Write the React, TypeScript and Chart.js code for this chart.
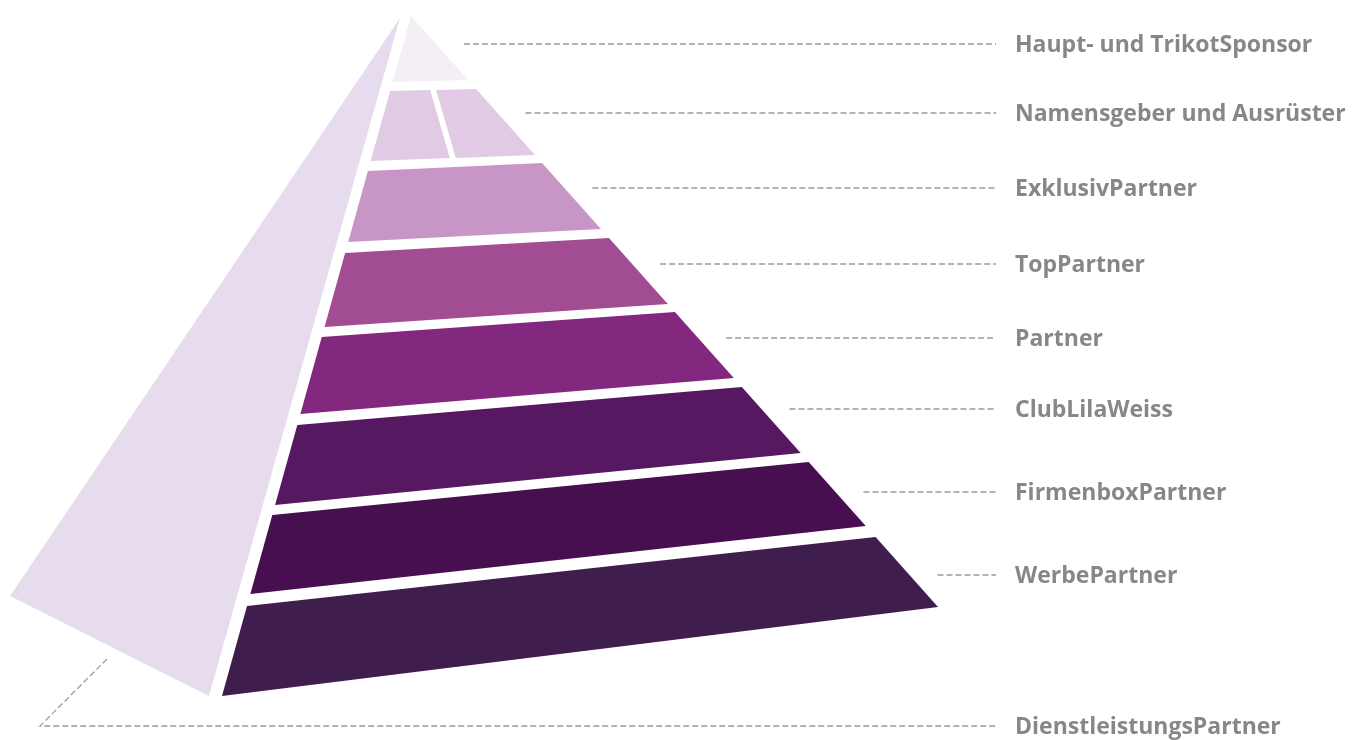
import React, { useEffect, useRef } from "react";
import { Chart, registerables } from "chart.js";

Chart.register(...registerables);

// ---------- content ----------
const TIER_LABELS = [
  "Haupt- und TrikotSponsor",
  "Namensgeber und Ausrüster",
  "ExklusivPartner",
  "TopPartner",
  "Partner",
  "ClubLilaWeiss",
  "FirmenboxPartner",
  "WerbePartner",
];
const SIDE_LABEL = "DienstleistungsPartner";
const TIER_PIECES = [1, 2, 1, 1, 1, 1, 1, 1];

// ---------- styles ----------
const TIER_COLORS = [
  "#f4eef7",
  "#e1cae3",
  "#c896c6",
  "#a24d92",
  "#82287f",
  "#571862",
  "#470e50",
  "#3f1d4c",
];
const SIDE_COLOR = "#e6dcee";
const LEADER_COLOR = "#9b9b9b";
const TEXT_COLOR = "#878787";

// ---------- layout (page pixels, y grows downward) ----------
const APEX = { x: 411, y: 16 };
const FRONT_LEFT_BASE = { x: 222, y: 696 };
const FRONT_RIGHT_BASE = { x: 938, y: 607 };
const SIDE_TOP = { x: 400, y: 18 };
const SIDE_LEFT = { x: 10, y: 596 };
const SIDE_BOTTOM = { x: 209, y: 696 };
// top / bottom of each tier where it meets the left and right edge
const TIER_LEFT_Y = [
  [16, 82], [91, 161], [171, 242], [253, 327], [337, 414], [425, 505], [515, 594], [606, 696],
];
const TIER_RIGHT_Y = [
  [16, 80], [89, 155], [163, 229], [238, 304], [312, 378], [387, 453], [462, 526], [537, 607],
];
const PIECE_GAP = 6;
const LABEL_Y = [44, 113, 188, 264, 338, 409, 492, 575];
const SIDE_LABEL_Y = 726;
const LEADER_GAP = 28;
const LEADER_END_X = 996;
const LABEL_X = 1015;
const SIDE_LEADER_START = { x: 107, y: 659 };
const SIDE_LEADER_CORNER_X = 40;

type P = { x: number; y: number };

const leftX = (y: number) =>
  APEX.x + ((FRONT_LEFT_BASE.x - APEX.x) * (y - APEX.y)) / (FRONT_LEFT_BASE.y - APEX.y);
const rightX = (y: number) =>
  APEX.x + ((FRONT_RIGHT_BASE.x - APEX.x) * (y - APEX.y)) / (FRONT_RIGHT_BASE.y - APEX.y);

const lerp = (a: P, b: P, t: number): P => ({ x: a.x + (b.x - a.x) * t, y: a.y + (b.y - a.y) * t });
const dist = (a: P, b: P) => Math.hypot(b.x - a.x, b.y - a.y);

function tierPolygons(i: number): P[][] {
  const [lt, lb] = TIER_LEFT_Y[i];
  const [rt, rb] = TIER_RIGHT_Y[i];
  const TL = { x: leftX(lt), y: lt };
  const TR = { x: rightX(rt), y: rt };
  const BL = { x: leftX(lb), y: lb };
  const BR = { x: rightX(rb), y: rb };
  const n = TIER_PIECES[i];
  if (n === 1) return [[TL, TR, BR, BL, TL]];
  const lenT = dist(TL, TR);
  const lenB = dist(BL, BR);
  const wT = (lenT - (n - 1) * PIECE_GAP) / n;
  const wB = (lenB - (n - 1) * PIECE_GAP) / n;
  const out: P[][] = [];
  for (let k = 0; k < n; k++) {
    const t0 = (k * (wT + PIECE_GAP)) / lenT;
    const t1 = (k * (wT + PIECE_GAP) + wT) / lenT;
    const b0 = (k * (wB + PIECE_GAP)) / lenB;
    const b1 = (k * (wB + PIECE_GAP) + wB) / lenB;
    const a = lerp(TL, TR, t0);
    const b = lerp(TL, TR, t1);
    const c = lerp(BL, BR, b1);
    const d = lerp(BL, BR, b0);
    out.push([a, b, c, d, a]);
  }
  return out;
}

const polygonDataset = (pts: P[], color: string) => ({
  data: pts,
  showLine: true,
  fill: "shape",
  backgroundColor: color,
  borderColor: "rgba(0,0,0,0)",
  borderWidth: 0,
  pointRadius: 0,
  pointHoverRadius: 0,
  tension: 0,
});

const leaderDataset = (pts: P[]) => ({
  data: pts,
  showLine: true,
  fill: false,
  borderColor: LEADER_COLOR,
  backgroundColor: LEADER_COLOR,
  borderWidth: 1.3,
  borderDash: [6, 3],
  pointRadius: 0,
  pointHoverRadius: 0,
  tension: 0,
});

const labelPlugin = {
  id: "pyramidLabels",
  afterDatasetsDraw(chart: any) {
    const { ctx, scales } = chart;
    const xs = scales.x;
    const ys = scales.y;
    ctx.save();
    ctx.font = '700 23px "Open Sans"';
    ctx.fillStyle = TEXT_COLOR;
    ctx.textAlign = "left";
    ctx.textBaseline = "alphabetic";
    TIER_LABELS.forEach((label, i) => {
      ctx.fillText(label, xs.getPixelForValue(LABEL_X), ys.getPixelForValue(LABEL_Y[i]) + 7.5);
    });
    ctx.fillText(SIDE_LABEL, xs.getPixelForValue(LABEL_X), ys.getPixelForValue(SIDE_LABEL_Y) + 7.5);
    ctx.restore();
  },
};

export default function App() {
  const ref = useRef<HTMLCanvasElement | null>(null);

  useEffect(() => {
    if (!ref.current) return;
    const datasets: any[] = [];
    datasets.push(polygonDataset([SIDE_TOP, SIDE_LEFT, SIDE_BOTTOM, SIDE_TOP], SIDE_COLOR));
    TIER_LABELS.forEach((_, i) => {
      tierPolygons(i).forEach((poly) => datasets.push(polygonDataset(poly, TIER_COLORS[i])));
    });
    LABEL_Y.forEach((y) => {
      datasets.push(leaderDataset([{ x: rightX(y) + LEADER_GAP, y }, { x: LEADER_END_X, y }]));
    });
    datasets.push(
      leaderDataset([
        SIDE_LEADER_START,
        { x: SIDE_LEADER_CORNER_X, y: SIDE_LABEL_Y },
        { x: LEADER_END_X, y: SIDE_LABEL_Y },
      ])
    );

    const chart = new Chart(ref.current, {
      type: "scatter",
      data: { datasets },
      options: {
        animation: false,
        responsive: false,
        maintainAspectRatio: false,
        events: [],
        layout: { padding: 0 },
        scales: {
          x: { type: "linear", min: 0, max: 1360, display: false },
          y: { type: "linear", min: 0, max: 740, reverse: true, display: false },
        },
        plugins: {
          legend: { display: false },
          tooltip: { enabled: false },
        },
      },
      plugins: [labelPlugin],
    } as any);
    return () => chart.destroy();
  }, []);

  return (
    <div style={{ position: "fixed", left: 0, top: 0, width: 1360, height: 740, background: "#fff" }}>
      <canvas ref={ref} width={1360} height={740} style={{ display: "block", width: 1360, height: 740 }} />
    </div>
  );
}
